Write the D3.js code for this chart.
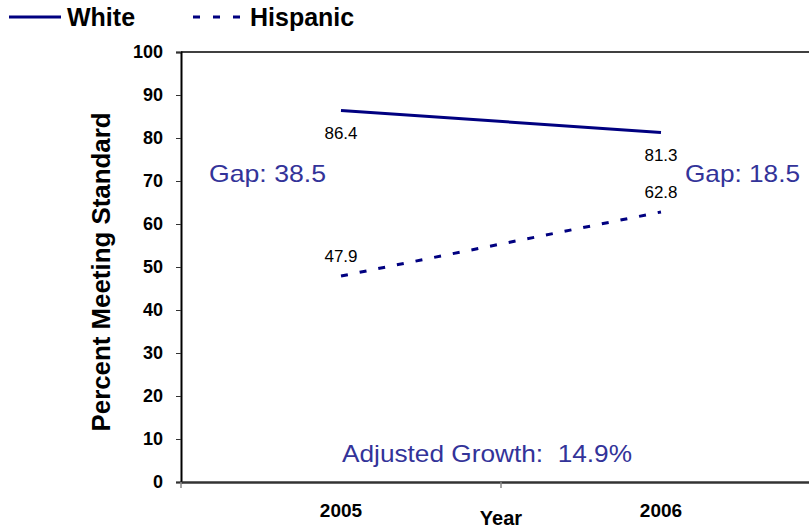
<!DOCTYPE html>
<html>
<head>
<meta charset="utf-8">
<script src="https://cdn.jsdelivr.net/npm/d3@7"></script>
<style>
  body { margin: 0; background: #fff; }
  svg { display: block; font-family: Arial, "Liberation Sans", sans-serif; }
</style>
</head>
<body>
<svg id="chart" width="809" height="531"></svg>
<script>
// chart data
const years = ["2005", "2006"];
const white = [86.4, 81.3];
const hispanic = [47.9, 62.8];
const yTicks = [0, 10, 20, 30, 40, 50, 60, 70, 80, 90, 100];
const gapLabels = ["Gap: 38.5", "Gap: 18.5"];
const growthLabel = "Adjusted Growth:  14.9%";

const svg = d3.select("#chart");
const margin = { left: 181, top: 52, right: -12, bottom: 49 };
const width = +svg.attr("width");
const height = +svg.attr("height");

const x = d3.scaleBand().domain(years).range([margin.left, width - margin.right]);
const y = d3.scaleLinear().domain([0, 100]).range([height - margin.bottom, margin.top]);
const navy = "#000080";
const blue = "#333399";
const fontFam = "Arial, 'Liberation Sans', sans-serif";

// top border of plot area
svg.append("line")
  .attr("x1", margin.left).attr("x2", width)
  .attr("y1", y(100)).attr("y2", y(100))
  .attr("stroke", "#404040").attr("stroke-width", 2);

// y axis
const yAxis = svg.append("g")
  .attr("transform", `translate(${margin.left},0)`)
  .call(d3.axisLeft(y).tickValues(yTicks).tickSize(5).tickPadding(13));
yAxis.select(".domain").attr("stroke", "#000").attr("stroke-width", 2);
yAxis.selectAll(".tick line").attr("stroke", "#333");
yAxis.selectAll(".tick text")
  .attr("font-size", 18).attr("font-weight", "bold").attr("fill", "#000")
  .attr("font-family", fontFam);

// x axis
const xAxis = svg.append("g")
  .attr("transform", `translate(0,${y(0)})`)
  .call(d3.axisBottom(x).tickSize(0).tickPadding(22));
xAxis.select(".domain").attr("stroke", "#333").attr("stroke-width", 2.5);
xAxis.selectAll(".tick text")
  .attr("font-size", 19).attr("font-weight", "bold").attr("fill", "#000")
  .attr("font-family", fontFam);
// category boundary ticks
svg.append("g").selectAll("line")
  .data(years)
  .join("line")
  .attr("x1", (d) => x(d)).attr("x2", (d) => x(d))
  .attr("y1", y(0)).attr("y2", y(0) + 6)
  .attr("stroke", "#888").attr("stroke-width", 1.5);

// axis titles
svg.append("text")
  .attr("transform", `translate(110,272) rotate(-90)`)
  .attr("text-anchor", "middle")
  .attr("font-size", 25).attr("font-weight", "bold")
  .attr("textLength", 319).attr("lengthAdjust", "spacingAndGlyphs")
  .text("Percent Meeting Standard");
svg.append("text")
  .attr("x", x("2005") + x.bandwidth()).attr("y", 525)
  .attr("text-anchor", "middle")
  .attr("font-size", 20).attr("font-weight", "bold")
  .text("Year");

// lines
const line = d3.line()
  .x((d, i) => x(years[i]) + x.bandwidth() / 2)
  .y((d) => y(d));

svg.append("path")
  .datum(white)
  .attr("d", line)
  .attr("fill", "none").attr("stroke", navy).attr("stroke-width", 3);
svg.append("path")
  .datum(hispanic)
  .attr("d", line)
  .attr("fill", "none").attr("stroke", navy).attr("stroke-width", 3)
  .attr("stroke-dasharray", "7,12");

// value labels
svg.append("g").selectAll("text")
  .data(white)
  .join("text")
  .attr("x", (d, i) => x(years[i]) + x.bandwidth() / 2)
  .attr("y", (d) => y(d) + 29)
  .attr("text-anchor", "middle").attr("font-size", 17)
  .text((d) => d.toFixed(1));
svg.append("g").selectAll("text")
  .data(hispanic)
  .join("text")
  .attr("x", (d, i) => x(years[i]) + x.bandwidth() / 2)
  .attr("y", (d) => y(d) - 14)
  .attr("text-anchor", "middle").attr("font-size", 17)
  .text((d) => d.toFixed(1));

// annotations
svg.append("text")
  .attr("x", 209).attr("y", 182)
  .attr("font-size", 24).attr("fill", blue)
  .attr("textLength", 117).attr("lengthAdjust", "spacingAndGlyphs")
  .text(gapLabels[0]);
svg.append("text")
  .attr("x", 685).attr("y", 182)
  .attr("font-size", 24).attr("fill", blue)
  .attr("textLength", 115).attr("lengthAdjust", "spacingAndGlyphs")
  .text(gapLabels[1]);
svg.append("text")
  .attr("x", 342).attr("y", 462)
  .attr("font-size", 24).attr("fill", blue)
  .attr("textLength", 290).attr("lengthAdjust", "spacingAndGlyphs")
  .style("white-space", "pre")
  .text(growthLabel);

// legend
const legend = svg.append("g");
legend.append("line")
  .attr("x1", 9).attr("x2", 61).attr("y1", 17).attr("y2", 17)
  .attr("stroke", navy).attr("stroke-width", 3);
legend.append("text")
  .attr("x", 67).attr("y", 26)
  .attr("font-size", 25).attr("font-weight", "bold")
  .text("White");
legend.append("line")
  .attr("x1", 193).attr("x2", 240).attr("y1", 17).attr("y2", 17)
  .attr("stroke", navy).attr("stroke-width", 3)
  .attr("stroke-dasharray", "7,13");
legend.append("text")
  .attr("x", 250).attr("y", 26)
  .attr("font-size", 25).attr("font-weight", "bold")
  .text("Hispanic");
</script>
</body>
</html>
